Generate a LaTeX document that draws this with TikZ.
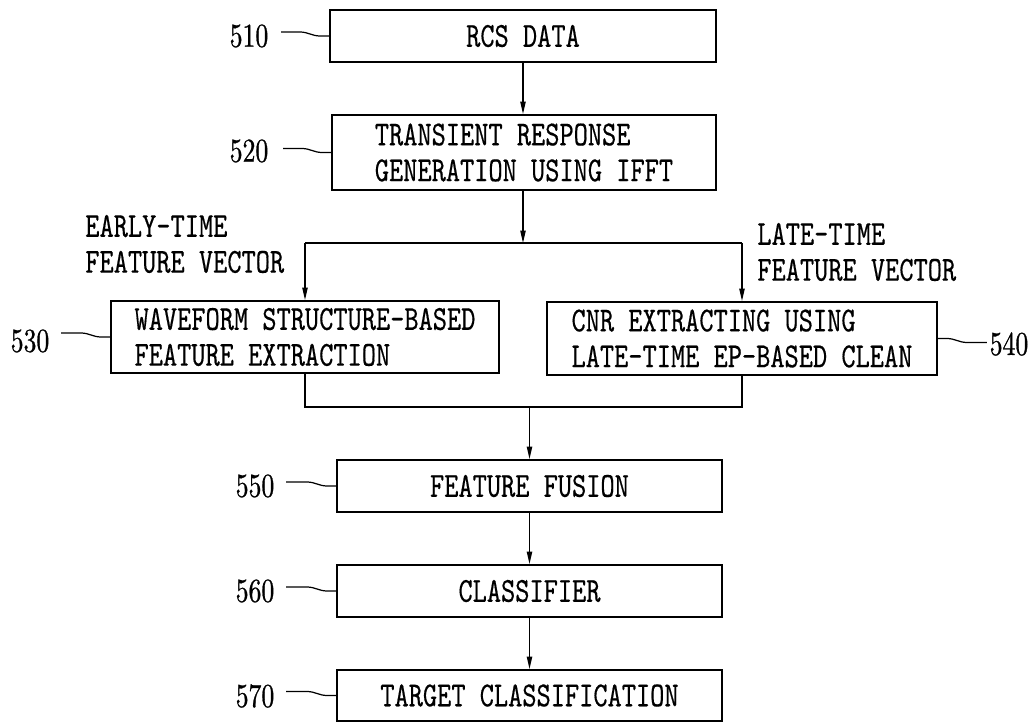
\documentclass[tikz,border=0pt]{standalone}
\usepackage{fontspec}
\newfontfamily\boxfont{lmmono10-regular.otf}[FakeStretch=0.77,FakeBold=0.4]
\newfontfamily\numfont{lmroman10-regular.otf}[FakeStretch=0.77,FakeBold=0.8]
\usetikzlibrary{arrows.meta}
\begin{document}
\begin{tikzpicture}[x=0.02cm,y=-0.02cm,
  box/.style={draw, line width=1.1pt, inner sep=0pt, align=center,
    font=\boxfont\fontsize{20}{20.4}\selectfont},
  lbl/.style={inner sep=0pt, align=left, font=\boxfont\fontsize{20}{20.4}\selectfont},
  num/.style={inner sep=0pt, font=\numfont\fontsize{19}{22}\selectfont},
  conn/.style={line width=0.7pt},
  arr/.style={conn, -{Triangle[length=7pt,width=3pt]}},
  lead/.style={line width=0.7pt}
]
\useasboundingbox (0,0) rectangle (1036,723);

% boxes
\node[box, minimum width=386*0.02cm, minimum height=52*0.02cm] (b510) at (523,36) {RCS DATA};
\node[box, minimum width=384*0.02cm, minimum height=75*0.02cm, align=left] (b520) at (524,152.5) {TRANSIENT RESPONSE\\GENERATION USING IFFT};
\node[box, minimum width=388*0.02cm, minimum height=72*0.02cm, align=left] (b530) at (305,337) {WAVEFORM STRUCTURE-BASED\\FEATURE EXTRACTION};
\node[box, minimum width=390*0.02cm, minimum height=73*0.02cm, align=left] (b540) at (742,338.5) {CNR EXTRACTING USING\\LATE-TIME EP-BASED CLEAN};
\node[box, minimum width=385*0.02cm, minimum height=52*0.02cm] (b550) at (529.5,486) {FEATURE FUSION};
\node[box, minimum width=385*0.02cm, minimum height=52*0.02cm] (b560) at (529.5,591) {CLASSIFIER};
\node[box, minimum width=385*0.02cm, minimum height=51*0.02cm] (b570) at (529.5,695.5) {TARGET CLASSIFICATION};

% side labels
\node[lbl, anchor=west] (early) at (85,244) {EARLY-TIME\\FEATURE VECTOR};
\node[lbl, anchor=west] (late) at (757,252) {LATE-TIME\\FEATURE VECTOR};

% reference numbers
\node[num] (n510) at (249,36) {510};
\node[num] (n520) at (249,151) {520};
\node[num] (n530) at (30,341) {530};
\node[num] (n540) at (1009,344) {540};
\node[num] (n550) at (255,486) {550};
\node[num] (n560) at (255,591) {560};
\node[num] (n570) at (255,696) {570};

% leaders (wavy)
\draw[lead] (b510.west) -- ++(-9,0) to[out=180,in=0] ++(-20,-4) -- ++(-19,0);
\draw[lead] (b520.west) -- ++(-9,0) to[out=180,in=0] ++(-20,-4) -- ++(-19,0);
\draw[lead] (b530.west) -- ++(-9,0) to[out=180,in=0] ++(-20,-4) -- ++(-20,0);
\draw[lead] (b540.east) -- ++(9,0) to[out=0,in=180] ++(20,4) -- ++(20,0);
\draw[lead] (b550.west) -- ++(-9,0) to[out=180,in=0] ++(-20,-4) -- ++(-21,0);
\draw[lead] (b560.west) -- ++(-9,0) to[out=180,in=0] ++(-20,-4) -- ++(-21,0);
\draw[lead] (b570.west) -- ++(-9,0) to[out=180,in=0] ++(-20,-4) -- ++(-21,0);

% connectors
\coordinate (split) at (523,243);
\coordinate (merge) at (529.5,407);
\draw[arr] (b510.south) -- (b510.south |- b520.north);
\draw[arr] (b520.south -| split) -- (split);
\draw[conn] (b530.north |- split) -- (b540.north |- split);
\draw[arr] (b530.north |- split) -- (b530.north);
\draw[arr] (b540.north |- split) -- (b540.north);
\draw[conn] (b530.south) -- (b530.south |- merge) -- (b540.south |- merge) -- (b540.south);
\draw[arr] (merge) -- (b550.north);
\draw[arr] (b550.south) -- (b560.north);
\draw[arr] (b560.south) -- (b570.north);
\end{tikzpicture}
\end{document}
